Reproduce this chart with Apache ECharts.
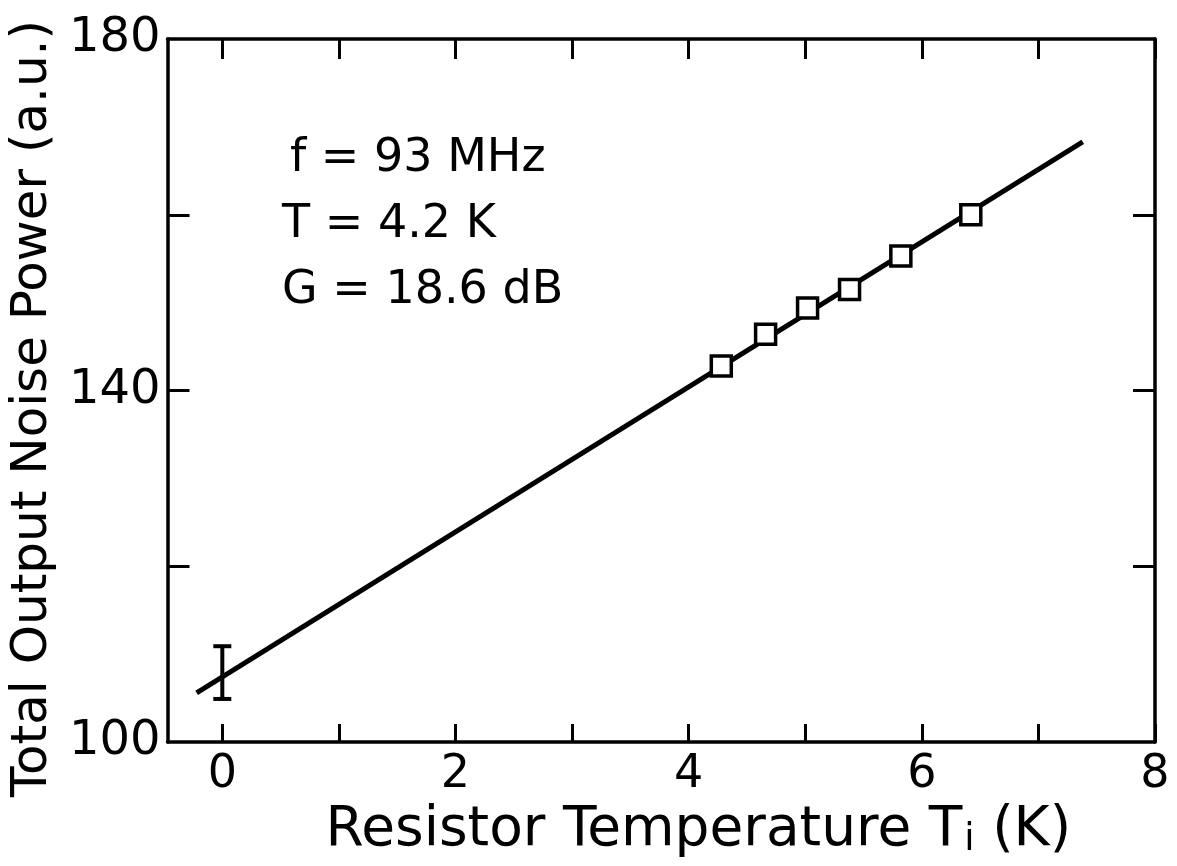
<!DOCTYPE html>
<html>
<head>
<meta charset="utf-8">
<script src="https://cdn.jsdelivr.net/npm/echarts@6/dist/echarts.min.js"></script>
<style>
html,body{margin:0;padding:0;background:#fff;}
#c{width:1177px;height:866px;}
</style>
</head>
<body>
<div id="c"></div>
<script>
// ---- data ----
var pointsX = [4.28, 4.66, 5.02, 5.38, 5.82, 6.42];
var pointsY = [142.8, 146.4, 149.4, 151.5, 155.3, 160.0];
var fitX = [-0.22, 7.38];
var fitY = [105.6, 168.3];
var errX = [0];
var errLow = [104.9];
var errHigh = [110.9];
var xTickValues = [0, 1, 2, 3, 4, 5, 6, 7, 8];
var xLabelValues = [0, 2, 4, 6, 8];
var yTickValues = [120, 140, 160];
var yLabelValues = [100, 140, 180];
var annotations = ['f = 93 MHz', 'T = 4.2 K', 'G = 18.6 dB'];

var FONT = 'DejaVu Sans';
var chart = echarts.init(document.getElementById('c'));

var axisLine = {show: true, onZero: false, lineStyle: {color: '#000', width: 3.5}};
var tickStyle = {color: '#000', width: 3};

var option = {
  backgroundColor: '#fff',
  animation: false,
  grid: {left: 165, right: 22, top: 39, bottom: 124, containLabel: false},
  xAxis: [{
    type: 'value', min: -0.47, max: 8, position: 'bottom',
    axisLine: axisLine,
    axisTick: {show: true, inside: true, length: 18, lineStyle: tickStyle, customValues: xTickValues},
    axisLabel: {show: true, margin: 10, fontFamily: FONT, fontSize: 46, color: '#000', customValues: xLabelValues},
    splitLine: {show: false},
    name: 'Resistor Temperature T{sub|i} (K)',
    nameLocation: 'middle', nameGap: 55,
    nameTextStyle: {fontFamily: FONT, fontSize: 55, color: '#000', padding: [0, 0, 0, 74],
      rich: {sub: {fontFamily: FONT, fontSize: 37, color: '#000', verticalAlign: 'bottom', padding: [20, 0, 0, 2]}}}
  }, {
    type: 'value', min: -0.47, max: 8, position: 'top',
    axisLine: axisLine,
    axisTick: {show: true, inside: true, length: 20, lineStyle: tickStyle, customValues: xTickValues},
    axisLabel: {show: false},
    splitLine: {show: false}
  }],
  yAxis: [{
    type: 'value', min: 100, max: 180, position: 'left',
    axisLine: axisLine,
    axisTick: {show: true, inside: true, length: 22, lineStyle: tickStyle, customValues: yTickValues},
    axisLabel: {show: true, margin: 7, fontFamily: FONT, fontSize: 48, color: '#000', customValues: yLabelValues},
    splitLine: {show: false},
    name: 'Total Output Noise Power (a.u.)',
    nameLocation: 'middle', nameGap: 108,
    nameTextStyle: {fontFamily: FONT, fontSize: 50, color: '#000', padding: [0, 36, 0, 0]}
  }, {
    type: 'value', min: 100, max: 180, position: 'right',
    axisLine: axisLine,
    axisTick: {show: true, inside: true, length: 22, lineStyle: tickStyle, customValues: yTickValues},
    axisLabel: {show: false},
    splitLine: {show: false}
  }],
  graphic: annotations.map(function (t, i) {
    return {type: 'text', left: i === 0 ? 290 : 282, top: 136 + i * 66,
      style: {text: t, fontFamily: FONT, fontSize: 46, fill: '#000'}};
  }),
  series: [{
    type: 'line', xAxisIndex: 0, yAxisIndex: 0,
    data: fitX.map(function (x, i) { return [x, fitY[i]]; }),
    symbol: 'none', lineStyle: {color: '#000', width: 5}, z: 2
  }, {
    type: 'scatter', xAxisIndex: 0, yAxisIndex: 0,
    data: pointsX.map(function (x, i) { return [x, pointsY[i]]; }),
    symbol: 'rect', symbolSize: 20,
    itemStyle: {color: '#fff', borderColor: '#000', borderWidth: 3.5, opacity: 1}, z: 3
  }, {
    type: 'custom', xAxisIndex: 0, yAxisIndex: 0,
    data: errX.map(function (x, i) { return [x, errLow[i], errHigh[i]]; }),
    renderItem: function (params, api) {
      var lo = api.coord([api.value(0), api.value(1)]);
      var hi = api.coord([api.value(0), api.value(2)]);
      var w = 9;
      var st = {stroke: '#000', lineWidth: 4};
      return {type: 'group', children: [
        {type: 'line', shape: {x1: lo[0], y1: lo[1], x2: hi[0], y2: hi[1]}, style: st},
        {type: 'line', shape: {x1: lo[0] - w, y1: lo[1], x2: lo[0] + w, y2: lo[1]}, style: st},
        {type: 'line', shape: {x1: hi[0] - w, y1: hi[1], x2: hi[0] + w, y2: hi[1]}, style: st}
      ]};
    }, z: 4
  }]
};
chart.setOption(option);
</script>
</body>
</html>
